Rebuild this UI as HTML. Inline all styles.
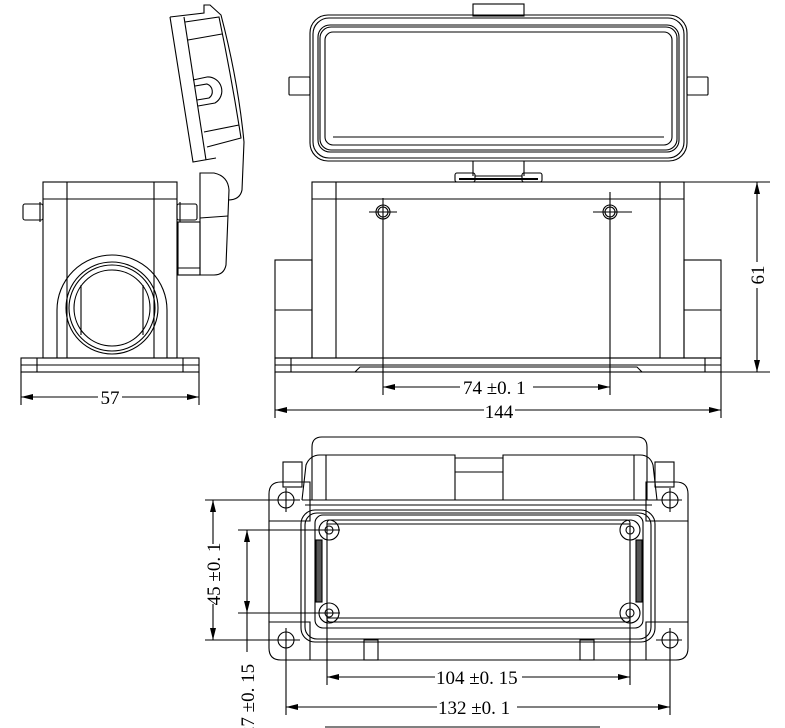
<!DOCTYPE html>
<html><head><meta charset="utf-8"><style>
html,body{margin:0;padding:0;background:#fff;}
svg{display:block;}
text{font-family:"Liberation Serif",serif;font-size:19px;fill:#000;}
</style></head><body>
<svg width="785" height="728" viewBox="0 0 785 728" xmlns="http://www.w3.org/2000/svg" fill="none" stroke="#000" stroke-width="1.1">
<defs>
<marker id="a" viewBox="0 0 12 6" refX="12" refY="3" markerWidth="12" markerHeight="6" orient="auto-start-reverse" markerUnits="userSpaceOnUse"><path d="M0,0 L12,3 L0,6 Z" fill="#000" stroke="none"/></marker>
</defs>

<!-- ===== SIDE VIEW ===== -->
<rect x="43" y="182" width="134" height="176"/>
<line x1="43" y1="199" x2="177" y2="199"/>
<line x1="67" y1="182" x2="67" y2="358"/>
<line x1="154" y1="182" x2="154" y2="358"/>
<rect x="23" y="204" width="20" height="16" rx="2"/>
<line x1="40" y1="202" x2="40" y2="222"/>
<rect x="177" y="204" width="20" height="16" rx="2"/>
<line x1="180" y1="202" x2="180" y2="222"/>
<rect x="21" y="358" width="178" height="14"/>
<line x1="21" y1="365" x2="199" y2="365"/>
<line x1="37" y1="358" x2="37" y2="372"/>
<line x1="183" y1="358" x2="183" y2="372"/>
<path d="M57,358 L57,310 A55,55 0 0 1 167,310 L167,358"/>
<circle cx="112" cy="308" r="46"/>
<circle cx="112" cy="308" r="43"/>
<circle cx="112" cy="308" r="38"/>
<line x1="81" y1="285" x2="81" y2="335"/>
<line x1="143" y1="285" x2="143" y2="335"/>
<!-- lid -->
<path d="M170,17 L204,13 L204,5 L210,5 L221,15 Q238,80 244,142 L242,190 Q240,200 228,200"/>
<path d="M170,17 L193,162 L216,158"/>
<path d="M184,17 L206,160"/>
<path d="M185,22 L219,17 Q232,80 241,138 L207,147"/>
<path d="M188,40 L222,34"/>
<path d="M204,132 L239,125"/>
<path d="M193,80 L207,77 A14,14 0 0 1 215,103 L198,106"/>
<path d="M195,86 L207,84 A8,8 0 0 1 209,98 L197,100"/>
<!-- hinge -->
<path d="M200,275 L200,173 L214,173 Q228,176 229,190 L226,265 Q224,275 214,275 Z"/>
<line x1="200" y1="218" x2="228" y2="216"/>
<rect x="178" y="222" width="22" height="53"/>
<line x1="178" y1="268" x2="200" y2="268"/>

<!-- 57 dim -->
<line x1="21" y1="372" x2="21" y2="405"/>
<line x1="199" y1="372" x2="199" y2="405"/>
<line x1="21" y1="397" x2="98" y2="397" marker-start="url(#a)"/>
<line x1="122" y1="397" x2="199" y2="397" marker-end="url(#a)"/>
<text x="110" y="404" text-anchor="middle" stroke="none">57</text>

<!-- ===== TOP VIEW (cover) ===== -->
<rect x="473" y="4" width="51" height="12"/>
<rect x="289" y="77" width="21" height="18" rx="1"/>
<rect x="687" y="77" width="21" height="18" rx="1"/>
<rect x="310" y="15" width="377" height="146" rx="18"/>
<rect x="313" y="18" width="371" height="140" rx="16"/>
<rect x="318" y="25" width="361" height="127" rx="12"/>
<rect x="320" y="27" width="357" height="123" rx="11"/>
<rect x="325" y="32" width="347" height="113" rx="8"/>
<line x1="333" y1="137" x2="664" y2="137"/>
<line x1="473" y1="161" x2="473" y2="176"/>
<line x1="524" y1="161" x2="524" y2="176"/>
<rect x="455" y="173" width="20" height="9" rx="2"/>
<rect x="522" y="173" width="20" height="9" rx="2"/>
<line x1="475" y1="176" x2="522" y2="176"/>
<line x1="459" y1="179" x2="538" y2="179" stroke-width="2"/>

<!-- ===== FRONT VIEW ===== -->
<rect x="312" y="182" width="372" height="176"/>
<line x1="312" y1="199" x2="684" y2="199"/>
<line x1="336" y1="182" x2="336" y2="358"/>
<line x1="660" y1="182" x2="660" y2="358"/>
<rect x="275" y="260" width="37" height="98"/>
<line x1="275" y1="310" x2="312" y2="310"/>
<rect x="684" y="260" width="37" height="98"/>
<line x1="684" y1="310" x2="721" y2="310"/>
<rect x="275" y="358" width="446" height="14"/>
<line x1="275" y1="365" x2="721" y2="365"/>
<line x1="291" y1="358" x2="291" y2="372"/>
<line x1="705" y1="358" x2="705" y2="372"/>
<path d="M355,372 L360,367 L637,367 L642,372"/>
<circle cx="383" cy="212" r="7"/><circle cx="383" cy="212" r="5"/>
<line x1="369" y1="212" x2="397" y2="212"/><line x1="383" y1="198" x2="383" y2="395"/>
<circle cx="610" cy="212" r="7"/><circle cx="610" cy="212" r="5"/>
<line x1="593" y1="212" x2="632" y2="212"/><line x1="610" y1="192" x2="610" y2="395"/>
<!-- 74 -->
<line x1="383" y1="387" x2="460" y2="387" marker-start="url(#a)"/>
<line x1="533" y1="387" x2="610" y2="387" marker-end="url(#a)"/>
<text x="463" y="394" stroke="none">74  ±0. 1</text>
<!-- 144 -->
<line x1="275" y1="372" x2="275" y2="418"/>
<line x1="721" y1="372" x2="721" y2="418"/>
<line x1="275" y1="410" x2="484" y2="410" marker-start="url(#a)"/>
<line x1="515" y1="410" x2="721" y2="410" marker-end="url(#a)"/>
<text x="499" y="418" text-anchor="middle" stroke="none">144</text>
<!-- 61 -->
<line x1="684" y1="182" x2="770" y2="182"/>
<line x1="721" y1="372" x2="770" y2="372"/>
<line x1="757" y1="182" x2="757" y2="262" marker-start="url(#a)"/>
<line x1="757" y1="288" x2="757" y2="372" marker-end="url(#a)"/>
<text x="0" y="0" transform="translate(764,275) rotate(-90)" text-anchor="middle" stroke="none">61</text>

<!-- ===== BOTTOM VIEW ===== -->
<path d="M269,494 Q269,482 281,482 L310,482 L310,521 L269,521 Z"/>
<path d="M688,494 Q688,482 676,482 L646,482 L646,521 L688,521 Z"/>
<path d="M269,622 L310,622 L310,660 L281,660 Q269,660 269,648 Z"/>
<path d="M688,622 L646,622 L646,660 L676,660 Q688,660 688,648 Z"/>
<line x1="269" y1="521" x2="269" y2="622"/>
<line x1="688" y1="521" x2="688" y2="622"/>
<line x1="310" y1="660" x2="646" y2="660"/>
<rect x="301" y="510" width="354" height="132" rx="14"/>
<rect x="305" y="513" width="346" height="126" rx="12"/>
<rect x="315" y="515" width="328" height="113" rx="8"/>
<rect x="327" y="520" width="303" height="102" rx="3"/>
<line x1="327" y1="524" x2="630" y2="524"/>
<line x1="327" y1="618" x2="630" y2="618"/>
<rect x="316" y="540" width="6" height="62" fill="#555"/>
<rect x="636" y="540" width="6" height="62" fill="#555"/>
<!-- cover -->
<path d="M312,500 L312,447 Q312,437 322,437 L637,437 Q647,437 647,447 L647,500"/>
<path d="M302,500 L306,465 Q310,455 320,455 L455,455 L455,500"/>
<path d="M503,500 L503,455 L640,455 Q650,455 653,465 L657,500"/>
<line x1="455" y1="458" x2="503" y2="458"/>
<line x1="455" y1="472" x2="503" y2="472"/>
<line x1="326" y1="455" x2="326" y2="500"/>
<line x1="634" y1="455" x2="634" y2="500"/>
<rect x="283" y="462" width="19" height="25"/>
<rect x="655" y="462" width="19" height="25"/>
<line x1="302" y1="500" x2="657" y2="500"/>
<line x1="305" y1="505" x2="652" y2="505"/>
<!-- holes -->
<g>
<circle cx="286" cy="500" r="8"/><line x1="274" y1="500" x2="300" y2="500"/><line x1="286" y1="488" x2="286" y2="512"/>
<circle cx="670" cy="500" r="8"/><line x1="656" y1="500" x2="682" y2="500"/><line x1="670" y1="488" x2="670" y2="512"/>
<circle cx="286" cy="640" r="8"/><line x1="274" y1="640" x2="300" y2="640"/><line x1="286" y1="628" x2="286" y2="715"/>
<circle cx="670" cy="640" r="8"/><line x1="656" y1="640" x2="682" y2="640"/><line x1="670" y1="628" x2="670" y2="715"/>
<circle cx="329" cy="530" r="4"/><circle cx="329" cy="530" r="10"/>
<circle cx="630" cy="530" r="4"/><circle cx="630" cy="530" r="10"/>
<circle cx="329" cy="613" r="4"/><circle cx="329" cy="613" r="10"/>
<circle cx="630" cy="613" r="4"/><circle cx="630" cy="613" r="10"/>
</g>
<rect x="364" y="640" width="14" height="20"/>
<rect x="580" y="640" width="14" height="20"/>
<!-- 45 dim -->
<line x1="205" y1="500" x2="300" y2="500"/>
<line x1="205" y1="640" x2="300" y2="640"/>
<line x1="213" y1="500" x2="213" y2="544" marker-start="url(#a)"/>
<line x1="213" y1="604" x2="213" y2="640" marker-end="url(#a)"/>
<text x="0" y="0" transform="translate(220,574) rotate(-90)" text-anchor="middle" stroke="none">45  ±0. 1</text>
<!-- 27 dim -->
<line x1="238" y1="530" x2="340" y2="530"/>
<line x1="238" y1="613" x2="340" y2="613"/>
<line x1="247" y1="530" x2="247" y2="613" marker-start="url(#a)" marker-end="url(#a)"/>
<line x1="247" y1="613" x2="247" y2="652"/>
<text x="0" y="0" transform="translate(254,700) rotate(-90)" text-anchor="middle" stroke="none">27  ±0. 15</text>
<!-- 104 dim -->
<line x1="327" y1="613" x2="327" y2="685"/>
<line x1="630" y1="613" x2="630" y2="685"/>
<line x1="327" y1="677" x2="435" y2="677" marker-start="url(#a)"/>
<line x1="522" y1="677" x2="630" y2="677" marker-end="url(#a)"/>
<text x="436" y="684" stroke="none">104  ±0. 15</text>
<!-- 132 dim -->
<line x1="286" y1="707" x2="437" y2="707" marker-start="url(#a)"/>
<line x1="517" y1="707" x2="670" y2="707" marker-end="url(#a)"/>
<text x="438" y="714" stroke="none">132  ±0. 1</text>
<line x1="325" y1="727" x2="600" y2="727"/>
</svg>
</body></html>
